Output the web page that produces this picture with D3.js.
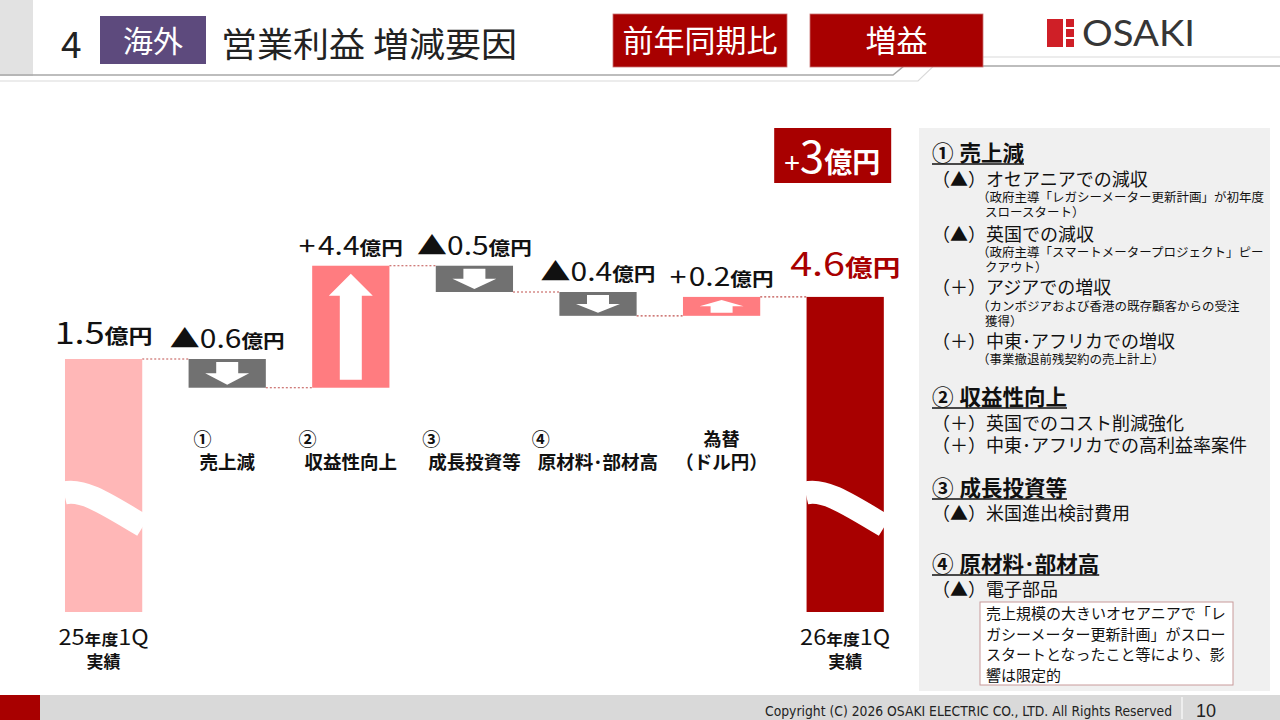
<!DOCTYPE html>
<html>
<head>
<meta charset="utf-8">
<script src="https://cdn.jsdelivr.net/npm/d3@7"></script>
<style>
  body { margin: 0; background: #fff; }
  svg { display: block; font-family: "Noto Sans CJK JP", "Noto Sans", sans-serif; }
</style>
</head>
<body>
<script>
// waterfall steps
const stepNums = ['', '①', '②', '③', '④', '為替', ''];
const stepNames = ['25年度1Q', '売上減', '収益性向上', '成長投資等', '原材料･部材高', '（ドル円）', '26年度1Q'];
const values = [1.5, -0.6, 4.4, -0.5, -0.4, 0.2, 4.6];
const totalDiff = '+3';
const unit = '億円';

// right panel notes: [type, text, baseline]
const notes = [
  ['h', '① 売上減', 161],
  ['i', '（▲）オセアニアでの減収', 186],
  ['s', '（政府主導「レガシーメーター更新計画」が初年度', 202],
  ['t', 'スロースタート）', 217],
  ['i', '（▲）英国での減収', 241],
  ['s', '（政府主導「スマートメータープロジェクト」ピー', 257],
  ['t', 'クアウト）', 272],
  ['i', '（＋）アジアでの増収', 294],
  ['s', '（カンボジアおよび香港の既存顧客からの受注', 311],
  ['t', '獲得）', 326],
  ['i', '（＋）中東･アフリカでの増収', 348],
  ['s', '（事業撤退前残契約の売上計上）', 364],
  ['h', '② 収益性向上', 405],
  ['i', '（＋）英国でのコスト削減強化', 430],
  ['i', '（＋）中東･アフリカでの高利益率案件', 452],
  ['h', '③ 成長投資等', 496],
  ['i', '（▲）米国進出検討費用', 520],
  ['h', '④ 原材料･部材高', 572],
  ['i', '（▲）電子部品', 596]
];
const boxNote = ['売上規模の大きいオセアニアで「レ', 'ガシーメーター更新計画」がスロー', 'スタートとなったこと等により、影', '響は限定的'];

const W = 1280, H = 720;
const darkRed = '#a80000';
const cjkFont = '"Noto Sans CJK JP", sans-serif';
const tightFont = '"Liberation Sans", "Noto Sans CJK JP", sans-serif';
const svg = d3.select('body').append('svg').attr('width', W).attr('height', H);

// ---------- header ----------
svg.append('rect').attr('x', 0).attr('y', 0).attr('width', 33).attr('height', 76).attr('fill', '#e2e2e2');
svg.append('path').attr('d', 'M0,81 H918 L943,57 H1280').attr('fill', 'none').attr('stroke', '#dadada').attr('stroke-width', 1.2);
svg.append('path').attr('d', 'M0,75 H893 L904,66 H1280').attr('fill', 'none').attr('stroke', '#a8a8a8').attr('stroke-width', 1.5);

svg.append('text').attr('x', 61).attr('y', 58).attr('font-size', 37).attr('fill', '#222').text('4');
svg.append('rect').attr('x', 100).attr('y', 16).attr('width', 106).attr('height', 48).attr('fill', '#5d4a7d');
svg.append('text').attr('x', 153).attr('y', 52).attr('text-anchor', 'middle').attr('font-size', 30).attr('fill', '#fff').text('海外');
svg.append('text').attr('x', 221).attr('y', 57).attr('font-size', 34).attr('fill', '#222')
  .attr('textLength', 296).attr('lengthAdjust', 'spacingAndGlyphs').text('営業利益 増減要因');

[['前年同期比', 613, 174], ['増益', 810, 173]].forEach(([t, x0, w]) => {
  svg.append('rect').attr('x', x0).attr('y', 14).attr('width', w).attr('height', 53).attr('fill', darkRed)
    .attr('stroke', '#c87070').attr('stroke-width', 0.8);
  svg.append('text').attr('x', x0 + w / 2).attr('y', 52).attr('text-anchor', 'middle')
    .attr('font-size', 31).attr('fill', '#fff').text(t);
});

// logo
const logo = svg.append('g').attr('fill', '#cf1f27');
logo.append('rect').attr('x', 1047).attr('y', 19).attr('width', 16).attr('height', 28);
[19, 29, 39].forEach(y => logo.append('rect').attr('x', 1066).attr('y', y).attr('width', 8).attr('height', 8));
svg.append('text').attr('x', 1082).attr('y', 46).attr('font-size', 37).attr('font-family', 'Lato, "Open Sans", sans-serif')
  .attr('fill', '#363636').attr('textLength', 113).attr('lengthAdjust', 'spacingAndGlyphs').text('OSAKI');

// ---------- footer ----------
svg.append('rect').attr('x', 0).attr('y', 695).attr('width', W).attr('height', 25).attr('fill', '#d9d9d9');
svg.append('rect').attr('x', 0).attr('y', 695).attr('width', 40).attr('height', 25).attr('fill', darkRed);
svg.append('text').attr('x', 1172).attr('y', 716).attr('text-anchor', 'end').attr('font-size', 14)
  .attr('font-family', '"Liberation Sans Narrow", "DejaVu Sans Condensed", sans-serif').attr('fill', '#222')
  .attr('textLength', 407).attr('lengthAdjust', 'spacingAndGlyphs')
  .text('Copyright (C) 2026 OSAKI ELECTRIC CO., LTD. All Rights Reserved');
svg.append('line').attr('x1', 1182).attr('x2', 1182).attr('y1', 697).attr('y2', 719).attr('stroke', '#f4f4f4').attr('stroke-width', 1.5);
svg.append('text').attr('x', 1206).attr('y', 717).attr('text-anchor', 'middle').attr('font-size', 18)
  .attr('font-family', '"Liberation Sans Narrow", sans-serif').attr('fill', '#222').text('10');

// ---------- waterfall ----------
const x = d3.scaleBand().domain(d3.range(values.length)).range([41.5, 907.3]).paddingInner(0.375).paddingOuter(0.19);
// schematic magnitude scale (axis broken at the ends)
const hScale = d3.scaleLinear().domain([0, 4.4]).range([14, 122]);
const baseY = 612, startY = 359;
const bw = x.bandwidth();

let level = startY;
const bars = values.map((v, i) => {
  if (i === 0) return { i, v, kind: 'start', top: startY, bottom: baseY, end: startY };
  if (i === values.length - 1) return { i, v, kind: 'end', top: level, bottom: baseY, end: level };
  const prev = level;
  level = v < 0 ? prev + hScale(Math.abs(v)) : prev - hScale(Math.abs(v));
  return { i, v, kind: v < 0 ? 'neg' : 'pos', top: Math.min(prev, level), bottom: Math.max(prev, level), end: level };
});
const color = { start: '#ffb7b7', neg: '#717171', pos: '#ff7c80', end: darkRed };

const chart = svg.append('g');

// connectors
chart.selectAll('line.conn').data(bars.slice(0, -1)).enter().append('line')
  .attr('class', 'conn')
  .attr('x1', d => x(d.i) + bw).attr('x2', d => x(d.i + 1))
  .attr('y1', d => d.end).attr('y2', d => d.end)
  .attr('stroke', '#c0504d').attr('stroke-width', 1.2).attr('stroke-dasharray', '2,2');

chart.selectAll('rect.bar').data(bars).enter().append('rect')
  .attr('class', 'bar')
  .attr('x', d => x(d.i)).attr('width', bw)
  .attr('y', d => d.top).attr('height', d => d.bottom - d.top)
  .attr('fill', d => color[d.kind]);

// broken-axis waves
chart.selectAll('path.wave').data(bars.filter(d => d.kind === 'start' || d.kind === 'end')).enter().append('path')
  .attr('class', 'wave')
  .attr('d', d => {
    const x0 = x(d.i);
    return `M${x0 - 1},493 C${x0 + 16},489 ${x0 + 34},499 ${x0 + bw + 1},526`;
  })
  .attr('fill', 'none').attr('stroke', '#fff').attr('stroke-width', 23);

// arrows in delta bars
chart.selectAll('path.arrow').data(bars.filter(d => d.kind === 'neg' || d.kind === 'pos')).enter().append('path')
  .attr('class', 'arrow')
  .attr('fill', '#fff')
  .attr('d', d => {
    const h = d.bottom - d.top;
    const m = h > 60 ? 8 : 3;
    const len = h - 2 * m;
    const head = Math.min(22, len * 0.5);
    const cx = x(d.i) + bw / 2, hw = 22, sw = 11;
    const t = d.top + m, b = d.bottom - m;
    if (d.kind === 'pos') {
      return `M${cx},${t} L${cx + hw},${t + head} L${cx + sw},${t + head} L${cx + sw},${b} L${cx - sw},${b} L${cx - sw},${t + head} L${cx - hw},${t + head} Z`;
    }
    return `M${cx},${b} L${cx + hw},${b - head} L${cx + sw},${b - head} L${cx + sw},${t} L${cx - sw},${t} L${cx - sw},${b - head} L${cx - hw},${b - head} Z`;
  });

// value labels (slide text is drawn a little wider than the font)
const fmt = d3.format('.1f');
const vl = chart.selectAll('g.val').data(bars).enter().append('g')
  .attr('class', 'val')
  .attr('transform', d => `translate(${x(d.i) + bw / 2},${d.top - (d.kind === 'start' ? 15 : d.kind === 'end' ? 21 : 11)}) scale(1.2,1)`)
  .append('text')
  .attr('text-anchor', 'middle')
  .attr('fill', d => d.kind === 'end' ? darkRed : '#111');
vl.append('tspan')
  .attr('font-size', d => d.kind === 'start' ? 30 : d.kind === 'end' ? 33 : 25)
  .text(d => d.kind === 'neg' ? '▲' : d.kind === 'pos' ? '+' : '');
vl.append('tspan')
  .attr('dx', d => d.kind === 'pos' ? 2 : 0)
  .attr('font-size', d => d.kind === 'start' ? 30 : d.kind === 'end' ? 33 : 25)
  .text(d => fmt(Math.abs(d.v)));
vl.append('tspan')
  .attr('font-size', d => d.kind === 'start' ? 20 : d.kind === 'end' ? 23 : 18)
  .attr('font-weight', 'bold')
  .text(unit);

// total difference box
const last = bars[bars.length - 1];
const bx = x(last.i) + bw / 2 - 13;
svg.append('rect').attr('x', bx - 58).attr('y', 128).attr('width', 117).attr('height', 55).attr('fill', darkRed);
const tt = svg.append('text').attr('x', bx).attr('y', 173).attr('text-anchor', 'middle').attr('fill', '#fff');
tt.append('tspan').attr('font-size', 28).text(totalDiff.slice(0, 1));
tt.append('tspan').attr('font-size', 44).text(totalDiff.slice(1));
tt.append('tspan').attr('font-size', 28).attr('font-weight', 'bold').text(unit);

// category labels (middle steps)
bars.filter(d => d.kind === 'neg' || d.kind === 'pos').forEach(d => {
  const cx = x(d.i) + bw / 2;
  const name = chart.append('text').attr('x', cx).attr('y', 469).attr('text-anchor', 'middle')
    .attr('font-family', tightFont)
    .attr('font-size', 18.5).attr('font-weight', 'bold').attr('fill', '#111').text(stepNames[d.i]);
  const nw = name.node().getComputedTextLength();
  const circled = stepNums[d.i].length === 1;
  chart.append('text')
    .attr('x', circled ? cx - nw / 2 - 6 : cx)
    .attr('y', 446)
    .attr('text-anchor', circled ? 'start' : 'middle')
    .attr('font-family', tightFont)
    .attr('font-size', 18).attr('font-weight', 'bold').attr('fill', '#111').text(stepNums[d.i]);
});

// start/end labels
bars.filter(d => d.kind === 'start' || d.kind === 'end').forEach(d => {
  const cx = x(d.i) + bw / 2;
  const m = stepNames[d.i].match(/^(\d+)(年度)(.*)$/);
  const t = chart.append('g').attr('transform', `translate(${cx},645) scale(1.12,1)`)
    .append('text').attr('text-anchor', 'middle').attr('fill', '#111').attr('font-weight', 'bold');
  t.append('tspan').attr('font-size', 21).attr('font-weight', 'normal').text(m[1]);
  t.append('tspan').attr('font-size', 15).text(m[2]);
  t.append('tspan').attr('font-size', 21).attr('font-weight', 'normal').text(m[3]);
  chart.append('text').attr('x', cx).attr('y', 668).attr('text-anchor', 'middle')
    .attr('font-family', tightFont)
    .attr('font-size', 17).attr('font-weight', 'bold').attr('fill', '#111').text('実績');
});

// ---------- right panel ----------
svg.append('rect').attr('x', 919).attr('y', 128).attr('width', 351).attr('height', 563).attr('fill', '#f0f0f0');
svg.append('rect').attr('x', 980).attr('y', 602).attr('width', 253).attr('height', 83)
  .attr('fill', '#fff').attr('stroke', '#c89a9a').attr('stroke-width', 1);
const panel = svg.append('g').attr('fill', '#111').attr('font-family', tightFont);
notes.forEach(([type, text, y]) => {
  const cfg = {
    h: { x: 932, size: 21.5, weight: 'bold' },
    i: { x: 932, size: 18, weight: 'normal' },
    s: { x: 977, size: 12.5, weight: 'normal' },
    t: { x: 985, size: 12.5, weight: 'normal' }
  }[type];
  const el = panel.append('text').attr('x', cfg.x).attr('y', y).attr('font-size', cfg.size)
    .attr('font-weight', cfg.weight);
  // keep the full-size CJK triangle in item markers
  text.split(/(▲)/).filter(s => s).forEach(part => {
    const ts = el.append('tspan').text(part);
    if (part === '▲') ts.attr('font-family', cjkFont);
  });
  if (type === 'h') {
    const w = el.node().getComputedTextLength();
    panel.append('line').attr('x1', cfg.x).attr('x2', cfg.x + w).attr('y1', y + 3).attr('y2', y + 3)
      .attr('stroke', '#111').attr('stroke-width', 1.5);
  }
});
boxNote.forEach((t, k) => {
  panel.append('text').attr('x', 986).attr('y', 619 + k * 20.7).attr('font-size', 15).text(t);
});
</script>
</body>
</html>
